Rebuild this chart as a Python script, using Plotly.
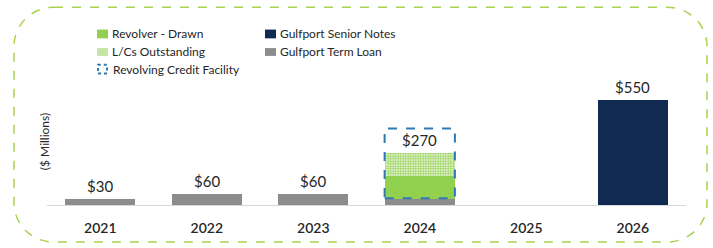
import plotly.graph_objects as go

# ---- data ----
years = ["2021", "2022", "2023", "2024", "2025", "2026"]
term_loan = [30, 60, 60, 30, 0, 0]
revolver_drawn = [0, 0, 0, 120, 0, 0]
lcs_outstanding = [0, 0, 0, 120, 0, 0]
senior_notes = [0, 0, 0, 0, 0, 550]
label_text = ["$30", "$60", "$60", "$270", "", "$550"]
rcf_year = "2024"
rcf_capacity = 400

W, H = 713, 248
ML, MR, MT, MB = 47, 27, 90, 40
PW, PH = W - ML - MR, H - MT - MB
YMAX = 601
BARGAP = 0.34

def px(x):
    return (x - ML) / PW

def py(y):
    return (H - MB - y) / PH

GRAY = "#8c8c8c"
NAVY = "#102a52"
GREEN = "#92d050"
BLUE = "#2f7ab3"
FRAME = "#a9d24f"
FONT = "Lato"
TXT = "#262626"

fig = go.Figure()
fig.add_bar(x=years, y=term_loan, marker_color=GRAY, marker_line_width=0, name="Gulfport Term Loan")
fig.add_bar(x=years, y=revolver_drawn, marker_color=GREEN, marker_line_width=0, name="Revolver - Drawn")
fig.add_bar(x=years, y=lcs_outstanding, name="L/Cs Outstanding", marker=dict(
    color="white", line_width=0,
    pattern=dict(shape=".", fgcolor=GREEN, bgcolor="#f1f8e8", size=2.5, solidity=0.5, fillmode="replace")))
fig.add_bar(x=years, y=senior_notes, marker_color=NAVY, marker_line_width=0, name="Gulfport Senior Notes")

totals = [a + b + c + d for a, b, c, d in zip(term_loan, revolver_drawn, lcs_outstanding, senior_notes)]
annotations = []
for i, (tot, lab) in enumerate(zip(totals, label_text)):
    if lab:
        annotations.append(dict(x=i, y=tot, text=lab, showarrow=False, yanchor="bottom", yshift=2,
                                font=dict(family=FONT, size=15, color=TXT)))

# y-axis title
annotations.append(dict(xref="paper", yref="paper", x=px(35), y=py(143), text="($ Millions)", textangle=-90,
                        showarrow=False, font=dict(family=FONT, size=12, color=TXT)))

shapes = []
# revolving credit facility box
idx = years.index(rcf_year)
half = (1 - BARGAP) / 2
shapes.append(dict(type="rect", xref="x", yref="y", x0=idx - half, x1=idx + half,
                   y0=term_loan[idx] + 5, y1=rcf_capacity,
                   line=dict(color=BLUE, width=2, dash="dash"), fillcolor="rgba(0,0,0,0)"))

# manual legend
legend_items = [
    (97, 28, 37, GREEN, "Revolver - Drawn", "solid"),
    (97, 47, 55, "#c6e4a2", "L/Cs Outstanding", "solid"),
    (98, 64, 73, None, "Revolving Credit Facility", "dash"),
    (265, 28, 37, NAVY, "Gulfport Senior Notes", "solid"),
    (265, 47, 55, GRAY, "Gulfport Term Loan", "solid"),
]
for x0, y0, y1, col, txt, kind in legend_items:
    if kind == "solid":
        shapes.append(dict(type="rect", xref="paper", yref="paper", x0=px(x0), x1=px(x0 + 11),
                           y0=py(y1), y1=py(y0), fillcolor=col, line_width=0))
    else:
        shapes.append(dict(type="rect", xref="paper", yref="paper", x0=px(x0), x1=px(x0 + 9),
                           y0=py(y1), y1=py(y0), fillcolor="rgba(0,0,0,0)",
                           line=dict(color=BLUE, width=2, dash="dot")))
    annotations.append(dict(xref="paper", yref="paper", x=px(x0 + 13), y=py((y0 + y1) / 2), text=txt,
                            xanchor="left", yanchor="middle", showarrow=False,
                            font=dict(family=FONT, size=12, color=TXT)))

# rounded dashed frame
L, R, T, B, r = 14, 707, 5, 246, 40
k = 0.5523 * r
def P(x, y):
    return f"{px(x):.5f},{py(y):.5f}"
path = (f"M {P(L + r, T)} L {P(R - r, T)} C {P(R - r + k, T)} {P(R, T + r - k)} {P(R, T + r)} "
        f"L {P(R, B - r)} C {P(R, B - r + k)} {P(R - r + k, B)} {P(R - r, B)} "
        f"L {P(L + r, B)} C {P(L + r - k, B)} {P(L, B - r + k)} {P(L, B - r)} "
        f"L {P(L, T + r)} C {P(L, T + r - k)} {P(L + r - k, T)} {P(L + r, T)} Z")
shapes.append(dict(type="path", xref="paper", yref="paper", path=path,
                   line=dict(color=FRAME, width=1.5, dash="dash")))

fig.update_layout(
    width=W, height=H, margin=dict(l=ML, r=MR, t=MT, b=MB),
    barmode="stack", bargap=BARGAP, showlegend=False,
    paper_bgcolor="white", plot_bgcolor="white",
    annotations=annotations, shapes=shapes,
    xaxis=dict(type="category", range=[-0.5, len(years) - 0.5], showline=True, linecolor="#d9d9d9",
               linewidth=1, ticks="", showgrid=False,
               tickfont=dict(family=FONT, size=14, color=TXT, weight=600), ticklabelstandoff=10,
               fixedrange=True),
    yaxis=dict(range=[0, YMAX], showgrid=False, showticklabels=False, zeroline=False, fixedrange=True),
)
fig.write_html("out.html", config={"displayModeBar": False})

# remove default page margin so the figure sits at the window's top-left corner
with open("out.html", encoding="utf-8") as f:
    html = f.read()
html = html.replace("<head>", "<head><style>html,body{margin:0;padding:0;overflow:hidden;}</style>", 1)
with open("out.html", "w", encoding="utf-8") as f:
    f.write(html)
